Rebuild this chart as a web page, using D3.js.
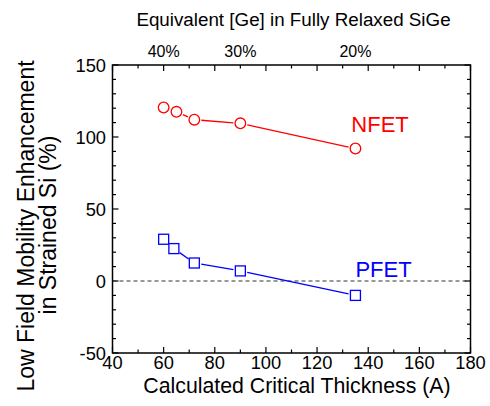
<!DOCTYPE html>
<html>
<head>
<meta charset="utf-8">
<script src="https://cdn.jsdelivr.net/npm/d3@7"></script>
<style>
  body { margin: 0; background: #fff; }
  text { font-family: "Liberation Sans", Arial, sans-serif; }
</style>
</head>
<body>
<script>
// data
const thickness = [60, 65, 72, 90, 135];
const nfet = [120.5, 117.5, 112, 109.5, 92];
const pfetThickness = [60, 64, 72, 90, 135];
const pfet = [29, 22.5, 12.5, 7, -10];
const geTicks = [60, 90, 135];
const geLabels = ["40%", "30%", "20%"];

const W = 490, H = 406;
const pLeft = 112.5, pRight = 470.5, pTop = 65, pBottom = 353;

const svg = d3.select("body").append("svg")
    .attr("width", W)
    .attr("height", H);

const x = d3.scaleLinear().domain([40, 180]).range([pLeft, pRight]);
const y = d3.scaleLinear().domain([-50, 150]).range([pBottom, pTop]);

// ticks (inward, mirrored on all sides)
const g = svg.append("g");
d3.range(40, 181, 10).forEach(function (v) {
    let len = v % 20 == 0 ? 6 : 3.5;
    g.append("line").attr("x1", x(v)).attr("x2", x(v))
        .attr("y1", pBottom).attr("y2", pBottom - len).attr("stroke", "#000").attr("stroke-width", 1.2);
    g.append("line").attr("x1", x(v)).attr("x2", x(v))
        .attr("y1", pTop).attr("y2", pTop + len).attr("stroke", "#000").attr("stroke-width", 1.2);
});
d3.range(-50, 151, 10).forEach(function (v) {
    let len = v % 50 == 0 ? 6 : 3.5;
    g.append("line").attr("y1", y(v)).attr("y2", y(v))
        .attr("x1", pLeft).attr("x2", pLeft + len).attr("stroke", "#000").attr("stroke-width", 1.2);
    g.append("line").attr("y1", y(v)).attr("y2", y(v))
        .attr("x1", pRight).attr("x2", pRight - len).attr("stroke", "#000").attr("stroke-width", 1.2);
});

// zero line
svg.append("line")
    .attr("x1", pLeft).attr("x2", pRight)
    .attr("y1", y(0)).attr("y2", y(0))
    .attr("stroke", "#333").attr("stroke-width", 1)
    .attr("stroke-dasharray", "4,3");

// frame
svg.append("rect")
    .attr("x", pLeft).attr("y", pTop)
    .attr("width", pRight - pLeft).attr("height", pBottom - pTop)
    .attr("fill", "none").attr("stroke", "#000").attr("stroke-width", 1.5);

// tick labels
d3.range(40, 181, 20).forEach(function (v) {
    svg.append("text").attr("x", x(v)).attr("y", 369)
        .attr("text-anchor", "middle").attr("font-size", 18.3).text(v);
});
d3.range(-50, 151, 50).forEach(function (v) {
    svg.append("text").attr("x", 106).attr("y", y(v) + 6.5)
        .attr("text-anchor", "end").attr("font-size", 18.3).text(v);
});
geTicks.forEach(function (v, i) {
    svg.append("text").attr("x", x(v)).attr("y", 57)
        .attr("text-anchor", "middle").attr("font-size", 16).text(geLabels[i]);
});

// titles
svg.append("text").attr("x", 297).attr("y", 393)
    .attr("text-anchor", "middle").attr("font-size", 21.3)
    .text("Calculated Critical Thickness (A)");
svg.append("text").attr("x", 293.5).attr("y", 26)
    .attr("text-anchor", "middle").attr("font-size", 18.8)
    .text("Equivalent [Ge] in Fully Relaxed SiGe");
svg.append("text")
    .attr("transform", "translate(34,226) rotate(-90)")
    .attr("text-anchor", "middle").attr("font-size", 23)
    .text("Low Field Mobility Enhancement");
svg.append("text")
    .attr("transform", "translate(56,225) rotate(-90)")
    .attr("text-anchor", "middle").attr("font-size", 23)
    .text("in Strained Si (%)");

// draws line segments that stop at the marker edges
function drawSeries(xs, ys, color, gap) {
    for (let i = 0; i < xs.length - 1; i++) {
        let x1 = x(xs[i]), y1 = y(ys[i]), x2 = x(xs[i + 1]), y2 = y(ys[i + 1]);
        let dx = x2 - x1, dy = y2 - y1;
        let d = Math.sqrt(dx * dx + dy * dy);
        if (d <= 2 * gap + 1) continue;
        let ux = dx / d, uy = dy / d;
        svg.append("line")
            .attr("x1", x1 + ux * gap).attr("y1", y1 + uy * gap)
            .attr("x2", x2 - ux * gap).attr("y2", y2 - uy * gap)
            .attr("stroke", color).attr("stroke-width", 1.3);
    }
}

drawSeries(thickness, nfet, "#ff0000", 7);
drawSeries(pfetThickness, pfet, "#0000ff", 7);

for (let i = 0; i < thickness.length; i++) {
    svg.append("circle")
        .attr("cx", x(thickness[i])).attr("cy", y(nfet[i])).attr("r", 5.3)
        .attr("fill", "#fff").attr("stroke", "#ff0000").attr("stroke-width", 1.3);
}
for (let i = 0; i < pfetThickness.length; i++) {
    svg.append("rect")
        .attr("x", x(pfetThickness[i]) - 5).attr("y", y(pfet[i]) - 5)
        .attr("width", 10).attr("height", 10)
        .attr("fill", "#fff").attr("stroke", "#0000ff").attr("stroke-width", 1.3);
}

// series labels
svg.append("text").attr("x", x(133.4)).attr("y", y(103.7))
    .attr("font-size", 22).attr("fill", "#ff0000").text("NFET");
svg.append("text").attr("x", x(135)).attr("y", y(3))
    .attr("font-size", 22).attr("fill", "#0000ff").text("PFET");
</script>
</body>
</html>
